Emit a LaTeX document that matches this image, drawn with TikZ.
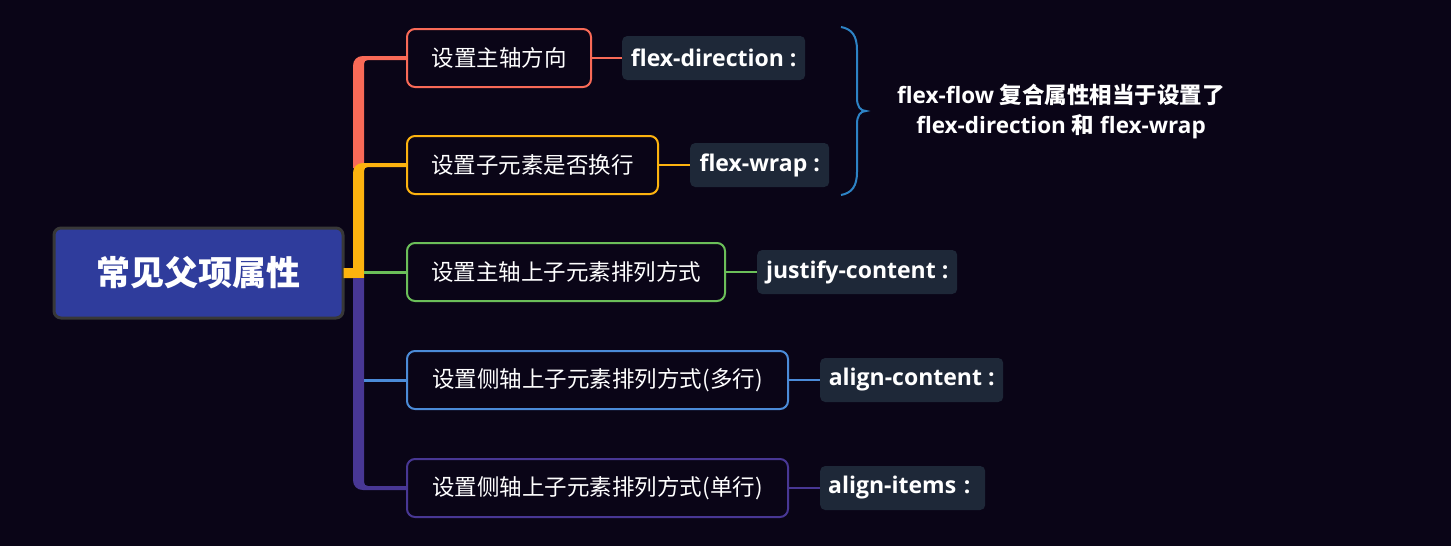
\documentclass[tikz,border=0pt]{standalone}
\usepackage{fontspec}
\setmainfont{Open Sans}
\newfontfamily\cjk{Noto Sans CJK SC}
\usetikzlibrary{calc}
\definecolor{bg}{HTML}{0A0517}
\definecolor{cred}{HTML}{F96A57}
\definecolor{cyellow}{HTML}{FDB30F}
\definecolor{cgreen}{HTML}{6BBF59}
\definecolor{cblue}{HTML}{4B8BD8}
\definecolor{cpurple}{HTML}{483794}
\definecolor{rootfill}{HTML}{2F3C9C}
\definecolor{rootline}{HTML}{383838}
\definecolor{lab}{HTML}{1E2838}
\definecolor{brace}{HTML}{2D83C5}
\begin{document}
\begin{tikzpicture}[x=1pt,y=-1pt,
  itembox/.style={draw, line width=2pt, rounded corners=8pt, fill=bg, minimum height=58pt, anchor=west, inner sep=0pt, text=white, font=\cjk\fontsize{22.5}{27}\selectfont},
  propbox/.style={fill=lab, rounded corners=5pt, minimum height=44pt, anchor=west, inner sep=0pt, text=white, font=\bfseries\fontsize{23}{27}\selectfont},
  thin/.style={line width=2.5pt}]
\fill[bg] (0,0) rectangle (1451,546);
\useasboundingbox (0,0) rectangle (1451,546);

\node[draw=rootline, line width=3pt, fill=rootfill, rounded corners=7pt, minimum width=289pt, minimum height=90pt, inner sep=0pt, text=white, font=\cjk\bfseries\fontsize{34}{40}\selectfont] (root) at (198.5,273) {常见父项属性};

\node[itembox, draw=cred, minimum width=184pt] (c1) at (406,58) {设置主轴方向};
\node[itembox, draw=cyellow, minimum width=251pt] (c2) at (406,165) {设置子元素是否换行};
\node[itembox, draw=cgreen, minimum width=318pt] (c3) at (406,272) {设置主轴上子元素排列方式};
\node[itembox, draw=cblue, minimum width=381pt] (c4) at (406,380) {设置侧轴上子元素排列方式(多行)};
\node[itembox, draw=cpurple, minimum width=381pt] (c5) at (406,488) {设置侧轴上子元素排列方式(单行)};

\node[propbox, minimum width=183pt] (l1) at (622,58) {flex-direction :};
\node[propbox, minimum width=139pt] (l2) at (690,165) {flex-wrap :};
\node[propbox, minimum width=200pt] (l3) at (757,272) {justify-content :};
\node[propbox, minimum width=183pt] (l4) at (820,380) {align-content :};
\node[propbox, minimum width=165pt, text width=149pt, align=left] (l5) at (820,488) {align-items :};

% thick branches
\fill[cred] (353,168) -- (353,66) .. controls (353,60) and (357,56) .. (363,56) -- ($(c1.west)+(0,-2)$) -- ($(c1.west)+(0,2)$) -- (368,60) .. controls (365.5,60) and (364,61.5) .. (364,64) -- (364,168) -- cycle;
\fill[cyellow] ($(root.east)+(-1,-5)$) -- (353,268) -- (353,173) .. controls (353,167) and (357,163) .. (363,163) -- ($(c2.west)+(0,-2)$) -- ($(c2.west)+(0,2)$) -- (368,167) .. controls (365.5,167) and (364,168.5) .. (364,171) -- (364,278) -- ($(root.east)+(-1,5)$) -- cycle;
\fill[cpurple] (353,278) -- (353,480) .. controls (353,486) and (357,490) .. (363,490) -- ($(c5.west)+(0,2)$) -- ($(c5.west)+(0,-2)$) -- (368,486) .. controls (365.5,486) and (364,484.5) .. (364,482) -- (364,278) -- cycle;
\coordinate (s3) at (364,272);
\coordinate (s4) at (364,380);
\draw[cgreen, line width=3pt] (s3) -- (c3.west);
\draw[cblue, line width=3pt] (s4) -- (c4.west);

% item to property connectors
\draw[cred, thin] (c1.east) -- (l1.west);
\draw[cyellow, thin] (c2.east) -- (l2.west);
\draw[cgreen, thin] (c3.east) -- (l3.west);
\draw[cblue, thin] (c4.east) -- (l4.west);
\draw[cpurple, thin] (c5.east) -- (l5.west);

% brace
\coordinate (btop) at (841,27);
\coordinate (bbot) at (841,195);
\coordinate (btip) at (866,111);
\draw[brace, line width=2pt] (btop) .. controls (852,29) and (857,36) .. (857,50) -- (857,98) .. controls (857,106) and (860,111) .. (btip) .. controls (860,111) and (857,116) .. (857,124) -- (857,172) .. controls (857,186) and (852,193) .. (bbot);

\node[text=white, align=center, font=\bfseries\fontsize{22.5}{30}\selectfont, inner sep=0pt] (note) at (1061,112) {flex-flow {\cjk\bfseries 复合属性相当于设置了}\\flex-direction {\cjk\bfseries 和} flex-wrap};
\end{tikzpicture}
\end{document}
